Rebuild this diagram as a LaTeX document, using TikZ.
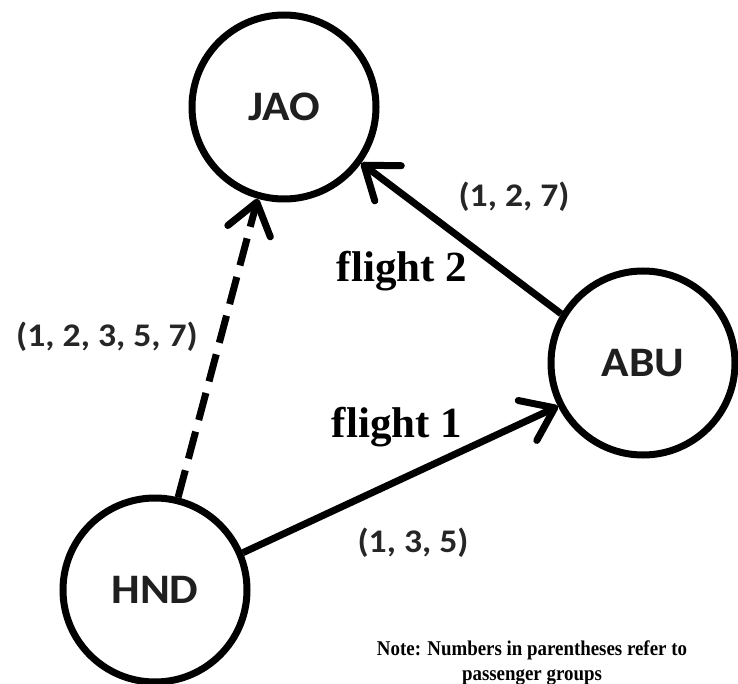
\documentclass[tikz,border=0pt]{standalone}
\usepackage{fontspec}
\setmainfont{Liberation Serif}
\newfontfamily\labelfont[FakeStretch=1.08]{Carlito}
\newfontfamily\notefont[FakeStretch=0.9]{Liberation Serif}
\usetikzlibrary{arrows.meta}
\begin{document}
\begin{tikzpicture}[x=1pt,y=-1pt,
  airport/.style={circle, draw, line width=7pt, minimum size=184pt, inner sep=0pt,
    font=\labelfont\bfseries\fontsize{42}{44}\selectfont, text=black!88},
  route/.style={line width=7pt,
    -{Straight Barb[length=30pt,width=44pt,line cap=round,line join=round]}},
  groups/.style={font=\labelfont\bfseries\fontsize{33}{35}\selectfont, text=black!85},
  flightlbl/.style={anchor=base, font=\bfseries\fontsize{43}{45}\selectfont},
  notelbl/.style={anchor=base, font=\notefont\bfseries\fontsize{21}{25}\selectfont}
]
\useasboundingbox (0,0) rectangle (738,684);

% airports
\node[airport] (jao) at (284,107) {JAO};
\node[airport] (abu) at (643,363) {ABU};
\node[airport] (hnd) at (155,590) {HND};

% routes
\draw[route, dash pattern=on 28pt off 12pt] (hnd.76) -- (jao.-106);
\draw[route] (abu.149) -- (jao.-36);
\draw[route] (hnd.23) -- (abu.207);

% passenger groups on each route
\node[groups] (g2) at (514,197) {(1, 2, 7)};
\node[groups] (g1) at (413,543) {(1, 3, 5)};
\node[groups] (g0) at (107,337) {(1, 2, 3, 5, 7)};

% flight names
\node[flightlbl] (f2) at (402,282) {flight 2};
\node[flightlbl] (f1) at (397,437) {flight 1};

% legend, two centred lines
\node[notelbl] (note1) at (532,655) {Note: Numbers in parentheses refer to};
\node[notelbl] (note2) at (532,680) {passenger groups};
\end{tikzpicture}
\end{document}
